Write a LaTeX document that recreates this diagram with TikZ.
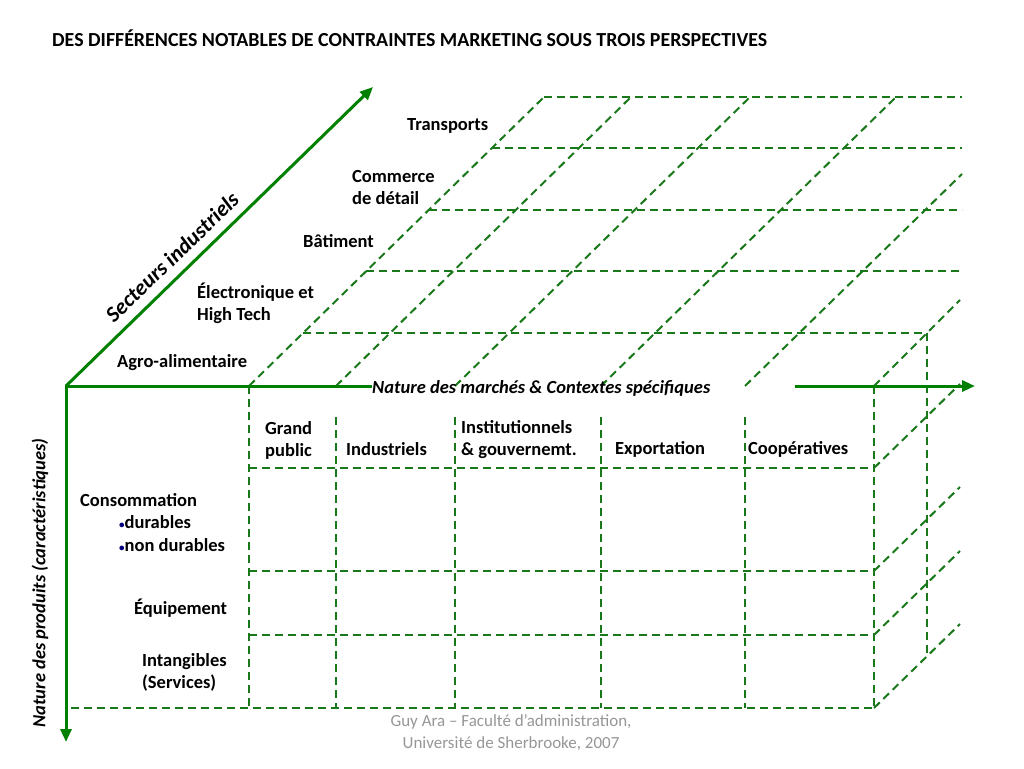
\documentclass[tikz,border=0pt]{standalone}
\usepackage{fontspec}
\setmainfont{Carlito}
\usetikzlibrary{arrows.meta}
\definecolor{axisgreen}{RGB}{0,128,0}
\definecolor{gridgreen}{RGB}{25,120,25}
\definecolor{bulletblue}{RGB}{0,0,128}
\definecolor{footgray}{RGB}{150,150,150}
\begin{document}
\begin{tikzpicture}[x=1pt,y=-1pt,
  axis/.style={draw=axisgreen, line width=3pt},
  axarrow/.style={axis, -{Triangle[length=13pt,width=11pt]}},
  gridline/.style={draw=gridgreen, line width=2pt, dash pattern=on 8pt off 5pt},
  lbl/.style={font=\fontsize{18.5}{22}\selectfont\bfseries, anchor=west, align=left, inner sep=0pt},
  axlbl/.style={font=\fontsize{18.5}{22}\selectfont\bfseries\itshape, inner sep=0pt},
  bul/.style={font=\fontsize{18.5}{22}\selectfont\bfseries, anchor=west, inner sep=0pt}
]
\useasboundingbox (0,0) rectangle (1024,768);

% title
\node[font=\fontsize{19.9}{22}\selectfont\bfseries, anchor=west, inner sep=0pt] (title) at (52,38)
  {DES DIFFÉRENCES NOTABLES DE CONTRAINTES MARKETING SOUS TROIS PERSPECTIVES};

% ---- front face grid
\foreach \yy in {468,571,635} \draw[gridline] (249,\yy) -- (874,\yy);
\draw[gridline] (71,708) -- (874,708);
\draw[gridline] (249,386) -- (249,708);
\foreach \xx in {336,455,601,745} \draw[gridline] (\xx,417) -- (\xx,708);
\draw[gridline] (874,386) -- (874,708);

% ---- top face grid
\draw[gridline] (303,333) -- (927,333);
\draw[gridline] (366,271) -- (962,271);
\draw[gridline] (429,210) -- (962,210);
\draw[gridline] (492,148) -- (962,148);
\draw[gridline] (544,97) -- (962,97);
\draw[gridline] (249,386) -- (544,97);
\draw[gridline] (336,386) -- (631,97);
\draw[gridline] (455,386) -- (750,97);
\draw[gridline] (601,386) -- (896,97);
\draw[gridline] (745,386) -- (962,174);
\draw[gridline] (874,386) -- (960,300);

% ---- right face grid
\draw[gridline] (874,468) -- (960,384);
\draw[gridline] (874,571) -- (960,487);
\draw[gridline] (874,635) -- (960,551);
\draw[gridline] (874,708) -- (960,624);
\draw[gridline] (927,333) -- (927,655);

% ---- axes
\coordinate (O) at (66,386);
\coordinate (Ocorner) at (64.5,386);
\coordinate (Dtip) at (373,87);
\coordinate (Vtip) at (66,742);
\coordinate (Hs) at (795,386);
\coordinate (Htip) at (975,386);
\node[axlbl, anchor=west] (marches) at (372,388) {Nature des marchés \& Contextes spécifiques};
\draw[axis] (Ocorner) -- (marches.west |- O);
\draw[axarrow] (Hs) -- (Htip);
\draw[axarrow] (O) -- (Dtip);
\draw[axarrow] (O) -- (Vtip);

\node[font=\fontsize{22}{22}\selectfont\bfseries\itshape, rotate=44, inner sep=0pt] (secteurs) at (172,257) {Secteurs industriels};
\node[axlbl, rotate=90] (produits) at (40,583) {Nature des produits (caractéristiques)};

% ---- sector labels
\node[lbl] (transports) at (407,126) {Transports};
\node[lbl] (commerce) at (352,187) {Commerce\\de détail};
\node[lbl] (batiment) at (303,241) {Bâtiment};
\node[lbl] (electro) at (197,303) {Électronique et\\High Tech};
\node[lbl] (agro) at (117,363) {Agro-alimentaire};

% ---- market labels
\node[lbl] (grand) at (265,440) {Grand\\public};
\node[lbl] (indus) at (346,449) {Industriels};
\node[lbl] (instit) at (461,440) {Institutionnels\\\& gouvernemt.};
\node[lbl] (export) at (615,449) {Exportation};
\node[lbl] (coop) at (748,449) {Coopératives};

% ---- product labels
\node[lbl] (conso) at (80,500) {Consommation};
\node[bul] (durables) at (119,522) {{\color{bulletblue}\fontsize{11}{11}\selectfont\textbullet}durables};
\node[bul] (nondurables) at (119,545) {{\color{bulletblue}\fontsize{11}{11}\selectfont\textbullet}non durables};
\node[lbl] (equip) at (134,608) {Équipement};
\node[lbl] (intang) at (142,672) {Intangibles\\(Services)};

% ---- footer
\node[font=\fontsize{17}{22}\selectfont, text=footgray, align=center, inner sep=0pt] (footer) at (511,733)
  {Guy Ara – Faculté d’administration,\\Université de Sherbrooke, 2007};
\end{tikzpicture}
\end{document}
